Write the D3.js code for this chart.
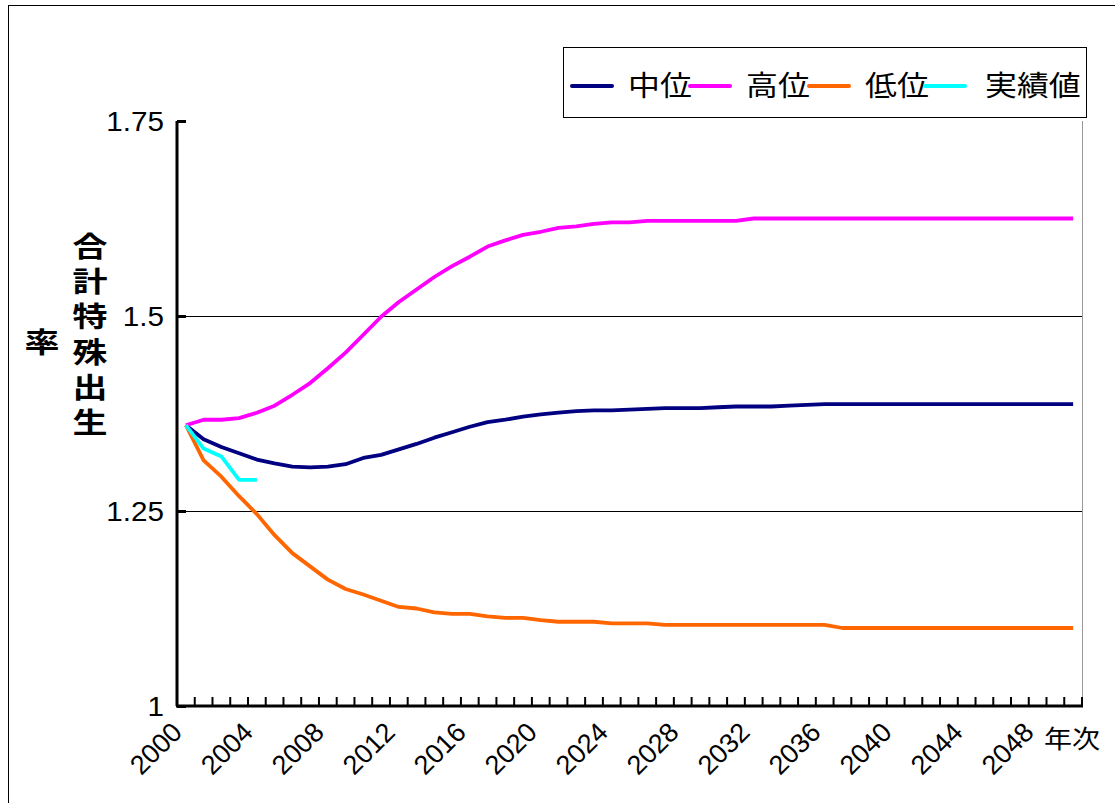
<!DOCTYPE html>
<html><head><meta charset="utf-8">
<script src="https://cdn.jsdelivr.net/npm/d3@7"></script>
<style>
html,body{margin:0;padding:0;background:#fff;}
svg{display:block;}
</style></head>
<body>
<script>
const years = d3.range(2000, 2051);
const seriesNames = ["中位", "高位", "低位", "実績値"];
const seriesColors = ["#000080", "#FF00FF", "#FF6600", "#00FFFF"];
const medium = [1.360,1.342,1.332,1.324,1.316,1.311,1.307,1.306,1.307,1.310,1.318,1.322,1.329,1.336,1.344,1.351,1.358,1.364,1.367,1.371,1.374,1.376,1.378,1.379,1.379,1.380,1.381,1.382,1.382,1.382,1.383,1.384,1.384,1.384,1.385,1.386,1.387,1.387,1.387,1.387,1.387,1.387,1.387,1.387,1.387,1.387,1.387,1.387,1.387,1.387,1.387];
const high = [1.360,1.367,1.367,1.369,1.376,1.385,1.399,1.414,1.433,1.453,1.476,1.499,1.518,1.534,1.550,1.564,1.576,1.589,1.597,1.604,1.608,1.613,1.615,1.618,1.620,1.620,1.622,1.622,1.622,1.622,1.622,1.622,1.625,1.625,1.625,1.625,1.625,1.625,1.625,1.625,1.625,1.625,1.625,1.625,1.625,1.625,1.625,1.625,1.625,1.625,1.625];
const low = [1.360,1.315,1.294,1.269,1.246,1.219,1.196,1.179,1.162,1.150,1.143,1.135,1.127,1.125,1.120,1.118,1.118,1.115,1.113,1.113,1.110,1.108,1.108,1.108,1.106,1.106,1.106,1.104,1.104,1.104,1.104,1.104,1.104,1.104,1.104,1.104,1.104,1.100,1.100,1.100,1.100,1.100,1.100,1.100,1.100,1.100,1.100,1.100,1.100,1.100,1.100];
const actual = [1.360,1.330,1.320,1.290,1.290];
const xTickLabels = ["2000","2004","2008","2012","2016","2020","2024","2028","2032","2036","2040","2044","2048"];
const yTicks = [1, 1.25, 1.5, 1.75];
const yTickLabels = ["1", "1.25", "1.5", "1.75"];
const yTitleMain = "合計特殊出生";
const yTitleTail = "率";
const xTitle = "年次";

const W = 1115, H = 803;
const svg = d3.select("body").append("svg").attr("width", W).attr("height", H);
const numFont = "'Liberation Sans', Arial, sans-serif";
const jpFont = "'Noto Sans CJK JP', sans-serif";

// outer frame
svg.append("rect").attr("x", 8.5).attr("y", 5.5).attr("width", 1120).attr("height", 820)
  .attr("fill", "none").attr("stroke", "#000").attr("stroke-width", 1);

const x = d3.scaleBand().domain(years).range([177, 1082]);
const y = d3.scaleLinear().domain([1, 1.75]).range([706, 121]);
const cx = d => x(d) + x.bandwidth() / 2;

// gridlines
svg.append("g").selectAll("line").data([1.25, 1.5]).join("line")
  .attr("x1", 177).attr("x2", 1082).attr("y1", d => y(d)).attr("y2", d => y(d))
  .attr("stroke", "#000").attr("stroke-width", 1).attr("shape-rendering", "crispEdges");
// plot area right edge
svg.append("line").attr("x1", 1082.5).attr("x2", 1082.5).attr("y1", 121).attr("y2", 706)
  .attr("stroke", "#999").attr("stroke-width", 1);

// y axis
const yAxis = d3.axisRight(y).tickValues(yTicks).tickSize(9).tickFormat("");
const gy = svg.append("g").attr("transform", "translate(177,0)").call(yAxis);
gy.select(".domain").attr("stroke", "#000").attr("stroke-width", 3).attr("d", `M0,${y(1.75)}V${y(1)}`);
gy.selectAll(".tick line").attr("stroke", "#000").attr("stroke-width", 3);
svg.append("g").selectAll("text").data(yTicks).join("text")
  .attr("transform", d => `translate(164,${y(d) + 10}) scale(1.06,1)`).attr("text-anchor", "end")
  .attr("font-family", numFont).attr("font-size", 28).attr("fill", "#000")
  .text((d, i) => yTickLabels[i]);

// x axis ticks at category boundaries
const boundaries = years.map(d => x(d)).concat([1082]);
svg.append("g").selectAll("line").data(boundaries).join("line")
  .attr("x1", d => d).attr("x2", d => d).attr("y1", 697).attr("y2", 706)
  .attr("stroke", "#000").attr("stroke-width", 2);
svg.append("line").attr("x1", 176).attr("x2", 1083).attr("y1", 706).attr("y2", 706)
  .attr("stroke", "#000").attr("stroke-width", 3);

// x tick labels
svg.append("g").selectAll("text").data(xTickLabels).join("text")
  .attr("transform", d => `translate(${cx(+d) - 16},${720}) rotate(-45)`)
  .attr("text-anchor", "end").attr("dy", "0.72em")
  .attr("font-family", numFont).attr("font-size", 27).attr("fill", "#000")
  .text(d => d);
svg.append("g").attr("transform", "translate(1044,748) scale(1.12,1)")
  .append("text").attr("font-family", jpFont).attr("font-size", 25).attr("fill", "#000").text(xTitle);

// y title (vertical text, one element per column)
svg.append("g").attr("transform", "translate(90,232) scale(1.25,1)")
  .append("text")
  .style("writing-mode", "vertical-rl").style("text-orientation", "upright")
  .attr("x", 0).attr("y", 0).attr("letter-spacing", 7.3)
  .attr("font-family", jpFont).attr("font-weight", "bold").attr("font-size", 28).attr("fill", "#000")
  .text(yTitleMain);
svg.append("text").attr("transform", "translate(42,353) scale(1.25,1)").attr("text-anchor", "middle")
  .attr("font-family", jpFont).attr("font-weight", "bold").attr("font-size", 28).attr("fill", "#000")
  .text(yTitleTail);

// lines
const line = d3.line().x((d, i) => cx(years[i])).y(d => y(d));
const seriesData = [medium, high, low, actual];
svg.append("g").selectAll("path").data(seriesData).join("path")
  .attr("d", d => line(d)).attr("fill", "none")
  .attr("stroke", (d, i) => seriesColors[i]).attr("stroke-width", 3.8)
  .attr("stroke-linejoin", "round");

// legend
const lg = svg.append("g");
lg.append("rect").attr("x", 563.5).attr("y", 47.5).attr("width", 523).attr("height", 70)
  .attr("fill", "#fff").attr("stroke", "#000").attr("stroke-width", 1);
svg.append("clipPath").attr("id", "lgclip").append("rect")
  .attr("x", 564).attr("y", 48).attr("width", 522).attr("height", 69);
const legendX = [572, 690, 809, 925];
const items = lg.append("g").attr("clip-path", "url(#lgclip)").selectAll("g").data(seriesNames).join("g")
  .attr("transform", (d, i) => `translate(${legendX[i]},86)`);
items.append("line").attr("x1", 0).attr("x2", 40).attr("y1", 0).attr("y2", 0)
  .attr("stroke", (d, i) => seriesColors[i]).attr("stroke-width", 4).attr("stroke-linecap", "round");
items.append("text").attr("transform", (d, i) => `translate(${i === 3 ? 60 : 56},10) scale(1.12,1)`)
  .attr("font-family", jpFont).attr("font-size", 28.5).attr("fill", "#000").text(d => d);
</script>
</body></html>
